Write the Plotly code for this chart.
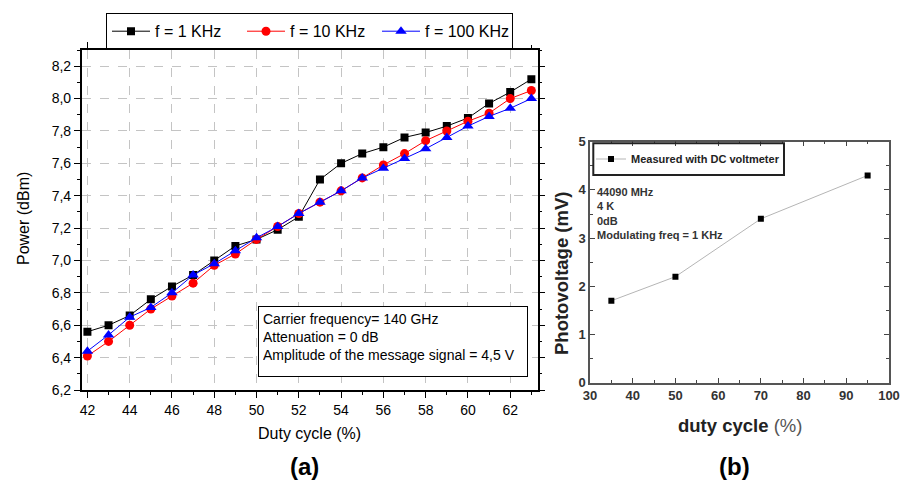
import plotly.graph_objects as go

# ---------------- data ----------------
duty_cycle = list(range(42, 64))
power_1khz = [6.56, 6.60, 6.66, 6.76, 6.84, 6.91, 7.00, 7.09, 7.13, 7.19, 7.27,
              7.50, 7.60, 7.66, 7.70, 7.76, 7.79, 7.83, 7.88, 7.97, 8.04, 8.12]
power_10khz = [6.41, 6.50, 6.60, 6.70, 6.78, 6.86, 6.97, 7.04, 7.13, 7.21, 7.29,
               7.36, 7.43, 7.51, 7.59, 7.66, 7.74, 7.80, 7.86, 7.91, 8.00, 8.05]
power_100khz = [6.44, 6.54, 6.65, 6.71, 6.80, 6.91, 6.98, 7.06, 7.14, 7.21, 7.29,
                7.36, 7.43, 7.51, 7.57, 7.63, 7.69, 7.76, 7.83, 7.89, 7.94, 8.00]

dc_duty = [35, 50, 70, 95]
dc_photovoltage = [1.7, 2.2, 3.4, 4.3]

W, H = 900, 483
FONT = "Liberation Sans, Arial, sans-serif"


def px(x):
    return x / W


def py(y):
    return 1 - y / H


fig = go.Figure()

fig.add_trace(go.Scatter(x=duty_cycle, y=power_1khz, name="f = 1 KHz", mode="lines+markers",
                         line=dict(color="black", width=1),
                         marker=dict(symbol="square", size=8, color="black"),
                         xaxis="x", yaxis="y"))
fig.add_trace(go.Scatter(x=duty_cycle, y=power_10khz, name="f = 10 KHz", mode="lines+markers",
                         line=dict(color="red", width=1),
                         marker=dict(symbol="circle", size=9, color="red"),
                         xaxis="x", yaxis="y"))
fig.add_trace(go.Scatter(x=duty_cycle, y=power_100khz, name="f = 100 KHz", mode="lines+markers",
                         line=dict(color="blue", width=1),
                         marker=dict(symbol="triangle-up", size=10, color="blue"),
                         xaxis="x", yaxis="y"))

fig.add_trace(go.Scatter(x=dc_duty, y=dc_photovoltage, name="Measured with DC voltmeter",
                         mode="lines+markers",
                         line=dict(color="#b5b5b5", width=1),
                         marker=dict(symbol="square", size=6, color="black"),
                         xaxis="x2", yaxis="y2", legend="legend2"))

grid = dict(showgrid=True, gridcolor="#c4c4c4", griddash="dash", gridwidth=1)

fig.update_layout(
    width=W, height=H,
    margin=dict(l=0, r=0, t=0, b=0, autoexpand=False),
    paper_bgcolor="white", plot_bgcolor="white",
    separators=",.",
    font=dict(family=FONT, color="black", size=14),
    showlegend=True,
    xaxis=dict(domain=[px(81.7), px(537.7)], range=[41.73, 63.3], anchor="y",
               automargin=False,
               tickmode="array", tickvals=list(range(42, 64, 2)),
               ticks="outside", ticklen=6, tickwidth=1, tickcolor="black",
               showline=True, linecolor="black", linewidth=1.5, mirror="ticks",
               minor=dict(tickvals=list(range(43, 64, 2)), ticks="outside", ticklen=3,
                          tickcolor="black", showgrid=False),
               tickfont=dict(size=14), zeroline=False, **grid),
    yaxis=dict(domain=[py(390), py(50)], range=[6.2, 8.3], anchor="x",
               automargin=False,
               tickmode="linear", tick0=6.2, dtick=0.2, tickformat=".1f",
               ticks="outside", ticklen=6, tickwidth=1, tickcolor="black",
               showline=True, linecolor="black", linewidth=1.5, mirror="ticks",
               minor=dict(dtick=0.1, ticks="outside", ticklen=3, tickcolor="black",
                          showgrid=False),
               tickfont=dict(size=14), zeroline=False, **grid),
    xaxis2=dict(domain=[px(590), px(889)], range=[30, 100], anchor="y2",
                automargin=False,
                tickmode="linear", tick0=30, dtick=10,
                ticks="inside", ticklen=5, tickwidth=1, tickcolor="#444",
                showline=True, linecolor="#555", linewidth=1.5, mirror="ticks",
                minor=dict(dtick=5, ticks="inside", ticklen=3, tickcolor="#444"),
                tickfont=dict(size=13, color="#333", family=FONT, weight="bold"),
                showgrid=False, zeroline=False),
    yaxis2=dict(domain=[py(382.7), py(141.7)], range=[0, 5], anchor="x2",
                automargin=False,
                tickmode="linear", tick0=0, dtick=1,
                ticks="inside", ticklen=5, tickwidth=1, tickcolor="#444",
                showline=True, linecolor="#555", linewidth=1.5, mirror="ticks",
                minor=dict(dtick=0.5, ticks="inside", ticklen=3, tickcolor="#444"),
                tickfont=dict(size=13, color="#333", family=FONT, weight="bold"),
                showgrid=False, zeroline=False),
    legend=dict(orientation="h", x=px(106), y=py(13.3), xanchor="left", yanchor="top",
                bordercolor="black", borderwidth=1, bgcolor="white",
                font=dict(size=16, family=FONT), itemwidth=38,
                entrywidth=82, entrywidthmode="pixels",
                tracegroupgap=0),
    legend2=dict(x=px(591), y=py(159), xanchor="left", yanchor="middle",
                 bgcolor="rgba(0,0,0,0)", borderwidth=0,
                 font=dict(size=11, family=FONT, color="#222", weight="bold"),
                 itemwidth=30),
)

# box around right-panel legend
fig.add_shape(type="rect", xref="paper", yref="paper",
              x0=px(593.3), x1=px(784), y0=py(175), y1=py(143.3),
              line=dict(color="#222", width=2), fillcolor="rgba(0,0,0,0)")

annotations = [
    dict(text="Carrier frequency= 140 GHz<br>Attenuation = 0 dB<br>Amplitude of the message signal = 4,5 V",
         x=px(257.7), y=py(306), xanchor="left", yanchor="top", align="left", valign="top",
         width=260, height=61, borderpad=4, bordercolor="black", borderwidth=1, bgcolor="white",
         font=dict(size=14)),
    dict(text="Duty cycle (%)", x=px(309), y=py(433), xanchor="center", yanchor="middle",
         font=dict(size=16)),
    dict(text="Power (dBm)", x=px(23), y=py(219), xanchor="center", yanchor="middle",
         textangle=-90, font=dict(size=16)),
    dict(text="<b>(a)</b>", x=px(304), y=py(466), xanchor="center", yanchor="middle",
         font=dict(size=24)),
    dict(text="<b>(b)</b>", x=px(734), y=py(466), xanchor="center", yanchor="middle",
         font=dict(size=24)),
    dict(text="<b>Photovoltage (mV)</b>", x=px(561), y=py(274), xanchor="center", yanchor="middle",
         textangle=-90, font=dict(size=18.5, color="#222")),
    dict(text="<b>duty cycle</b> <span style='color:#555'>(%)</span>", x=px(740), y=py(425),
         xanchor="center", yanchor="middle", font=dict(size=18.5, color="#222")),
    dict(text="<b>44090 MHz<br>4 K<br>0dB<br>Modulating freq = 1 KHz</b>",
         x=px(595), y=py(184), xanchor="left", yanchor="top", align="left",
         font=dict(size=11, color="#333")),
]
for a in annotations:
    a.setdefault("xref", "paper")
    a.setdefault("yref", "paper")
    a.setdefault("showarrow", False)
    fig.add_annotation(**a)

# place the figure flush with the window's top-left corner (no default body margin)
fig.write_html("out.html", config={"displayModeBar": False},
               post_script="document.body.style.margin='0';")
